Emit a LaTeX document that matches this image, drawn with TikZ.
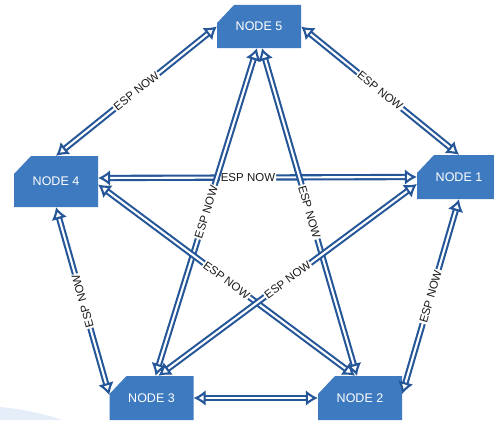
\documentclass[tikz,border=0pt]{standalone}
\usepackage{fontspec}
\setmainfont{Liberation Sans}
\usetikzlibrary{arrows.meta}
\definecolor{nodefill}{RGB}{62,122,192}
\definecolor{linkblue}{RGB}{36,86,152}
\definecolor{labeltext}{RGB}{25,25,25}
\definecolor{paleblue}{RGB}{228,237,248}
\tikzset{
  netnode/.style={
    minimum width=84pt, minimum height=44pt, inner sep=0pt,
    text=white, font=\fontsize{12.5}{12.5}\selectfont,
    path picture={
      \fill[nodefill]
        ([xshift=17pt]path picture bounding box.north west)
        -- (path picture bounding box.north east)
        -- (path picture bounding box.south east)
        -- (path picture bounding box.south west)
        -- ([yshift=-18pt]path picture bounding box.north west) -- cycle;
    }
  },
  link/.style={
    draw=linkblue, line width=2.1pt, double=white, double distance=2.1pt,
    {Latex[open,length=12pt,width=16pt]}-{Latex[open,length=12pt,width=16pt]}
  },
  lbl/.style={
    fill=white, inner sep=1pt, sloped, text=labeltext,
    font=\fontsize{11.5}{11.5}\selectfont
  }
}
\begin{document}
\begin{tikzpicture}[x=1pt,y=-1pt]
  \useasboundingbox (0,0) rectangle (494,420);
  \clip (0,0) rectangle (494,420);

  % faint tint in the lower left corner
  \fill[paleblue] (0,407) .. controls (22,409) and (45,414) .. (62,420) -- (0,420) -- cycle;

  % the five stations
  \node[netnode, minimum height=43pt] (n5) at (259,26.5) {NODE 5};
  \node[netnode, minimum height=51pt] (n4) at (56,181.5) {NODE 4};
  \node[netnode] (n1) at (459,177) {NODE 1};
  \node[netnode] (n3) at (151.5,398) {NODE 3};
  \node[netnode] (n2) at (360,398) {NODE 2};

  % outer ring
  \draw[link] (n5.west) -- node[lbl]{ESP NOW} (n4.north);
  \draw[link] (n5.east) -- node[lbl]{ESP NOW} (n1.north);
  \draw[link] ([yshift=3pt]n3.west) -- node[lbl, allow upside down]{ESP NOW} (n4.south);
  \draw[link] (n1.south) -- node[lbl]{ESP NOW} ([yshift=4pt]n2.east);
  \draw[link] (n3.east) -- (n2.west);

  % inner star
  \draw[link] ([yshift=3.5pt]n4.east) -- node[lbl, pos=0.47]{ESP NOW} (n1.west);
  \draw[link] ([xshift=-2pt]n5.south) -- node[lbl]{ESP NOW} ([xshift=4pt]n3.north);
  \draw[link] ([xshift=3pt]n5.south) -- node[lbl]{ESP NOW} ([xshift=-3pt]n2.north);
  \draw[link] ([yshift=-3pt]n4.east) -- node[lbl]{ESP NOW} ([xshift=-5pt]n2.north);
  \draw[link] ([yshift=-7pt]n1.west) -- node[lbl]{ESP NOW} ([xshift=7pt]n3.north);
\end{tikzpicture}
\end{document}
